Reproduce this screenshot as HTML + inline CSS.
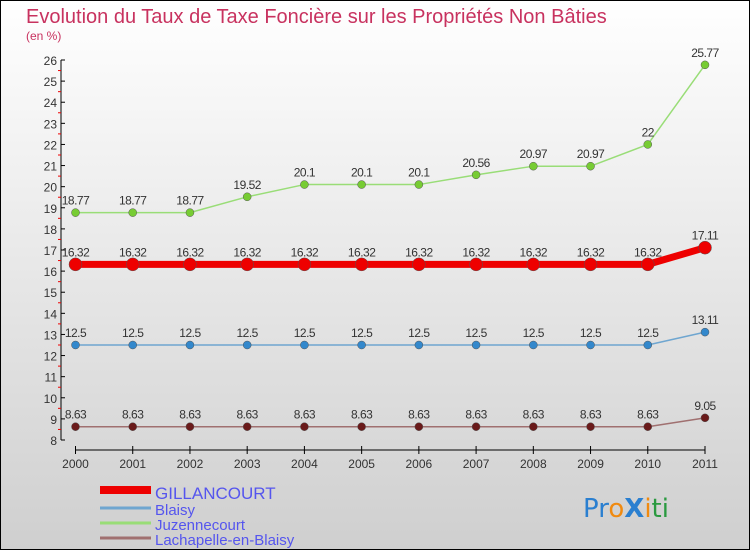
<!DOCTYPE html>
<html><head><meta charset="utf-8"><style>
body{margin:0;width:750px;height:550px;overflow:hidden}
svg{display:block;font-family:"Liberation Sans",sans-serif}
</style></head><body>
<svg id="chart" width="750" height="550" xmlns="http://www.w3.org/2000/svg">
<defs><linearGradient id="bg" x1="0" y1="0" x2="0" y2="1"><stop offset="0" stop-color="#ffffff"/><stop offset="1" stop-color="#cfcfcf"/></linearGradient></defs>
<rect x="0.5" y="0.5" width="749" height="549" fill="url(#bg)" stroke="#000"/>
<text x="26" y="23" font-size="20" fill="#c8325f">Evolution du Taux de Taxe Foncière sur les Propriétés Non Bâties</text>
<text x="26" y="40" font-size="12" fill="#c8325f">(en %)</text>
<g id="axes"></g><g id="series"></g>
<g>
<rect x="100" y="486" width="51" height="8" fill="#ee0000"/><text x="155" y="499" font-size="17" fill="#5555ee">GILLANCOURT</text>
<line x1="100" y1="508" x2="151" y2="508" stroke="#6fa6d0" stroke-width="3"/><text x="155" y="515" font-size="15" fill="#5555ee">Blaisy</text>
<line x1="100" y1="523" x2="151" y2="523" stroke="#99dd77" stroke-width="3"/><text x="155" y="530" font-size="15" fill="#5555ee">Juzennecourt</text>
<line x1="100" y1="538" x2="151" y2="538" stroke="#a07070" stroke-width="3"/><text x="155" y="545" font-size="15" fill="#5555ee">Lachapelle-en-Blaisy</text>
</g>
<text x="583" y="517" font-size="26" font-family="DejaVu Sans"><tspan fill="#2a7fd0">Pr</tspan><tspan fill="#f08a10">o</tspan><tspan fill="#2a7fd0" font-weight="bold">X</tspan><tspan fill="#f08a10">i</tspan><tspan fill="#2a9a40">ti</tspan></text>
</svg>
<script>
const years=["2000","2001","2002","2003","2004","2005","2006","2007","2008","2009","2010","2011"];
const gillancourt=[16.32,16.32,16.32,16.32,16.32,16.32,16.32,16.32,16.32,16.32,16.32,17.11];
const blaisy=[12.5,12.5,12.5,12.5,12.5,12.5,12.5,12.5,12.5,12.5,12.5,13.11];
const juzennecourt=[18.77,18.77,18.77,19.52,20.1,20.1,20.1,20.56,20.97,20.97,22,25.77];
const lachapelle=[8.63,8.63,8.63,8.63,8.63,8.63,8.63,8.63,8.63,8.63,8.63,9.05];
const yTicks=[8,9,10,11,12,13,14,15,16,17,18,19,20,21,22,23,24,25,26];
const NS="http://www.w3.org/2000/svg";
const xS=i=>75.5+i*(705-75.5)/11;
const yS=v=>440-(v-8)*(380/18);
function mk(t,a,p){const e=document.createElementNS(NS,t);for(const k in a)e.setAttribute(k,a[k]);p.appendChild(e);return e;}
const ax=document.getElementById('axes');
let l=mk('line',{x1:61,y1:yS(26),x2:61,y2:yS(8),stroke:'#000'},ax);


yTicks.forEach(v=>{
 mk('line',{x1:61,y1:yS(v),x2:65,y2:yS(v),stroke:'#000'},ax);
 if(v<26) mk('line',{x1:58,y1:yS(v+0.5),x2:61,y2:yS(v+0.5),stroke:'#e00'},ax);
 const t=mk('text',{x:57,y:yS(v)+5,'font-size':12,fill:'#333','text-anchor':'end'},ax);
 t.textContent=v;
 
 
});
l=mk('line',{x1:xS(0),y1:450,x2:xS(11),y2:450,stroke:'#000'},ax);


years.forEach((y,i)=>{
 mk('line',{x1:xS(i),y1:446,x2:xS(i),y2:454,stroke:'#000'},ax);
 const t=mk('text',{x:xS(i),y:468,'font-size':12,fill:'#333','text-anchor':'middle'},ax);
 t.textContent=y;
 
 
});
const sg=document.getElementById('series');
function series(name,data,color,dot,w,r){
 const g=mk('g',{},sg);
 
 
 mk('polyline',{points:data.map((v,i)=>xS(i)+','+yS(v)).join(' '),fill:'none',stroke:color,'stroke-width':w,'stroke-linejoin':'round'},g);
 data.forEach((v,i)=>{
  const c=mk('circle',{cx:xS(i),cy:yS(v),r:r,fill:dot,stroke:'#555','stroke-width':0.5},g);
  
  
  const t=mk('text',{x:xS(i),y:yS(v)-8,'font-size':12,fill:'#333','text-anchor':'middle','letter-spacing':'-0.5'},g);
  t.textContent=v;
  
  
 });
}
series('juzennecourt',juzennecourt,'#99dd77','#77cc33',1.5,4);
series('blaisy',blaisy,'#6fa6d0','#3388cc',1.5,4);
series('lachapelle',lachapelle,'#a07070','#6a1a1a',1.5,4);
series('gillancourt',gillancourt,'#ee0000','#ee0000',7,6.5);
</script>
</body></html>
